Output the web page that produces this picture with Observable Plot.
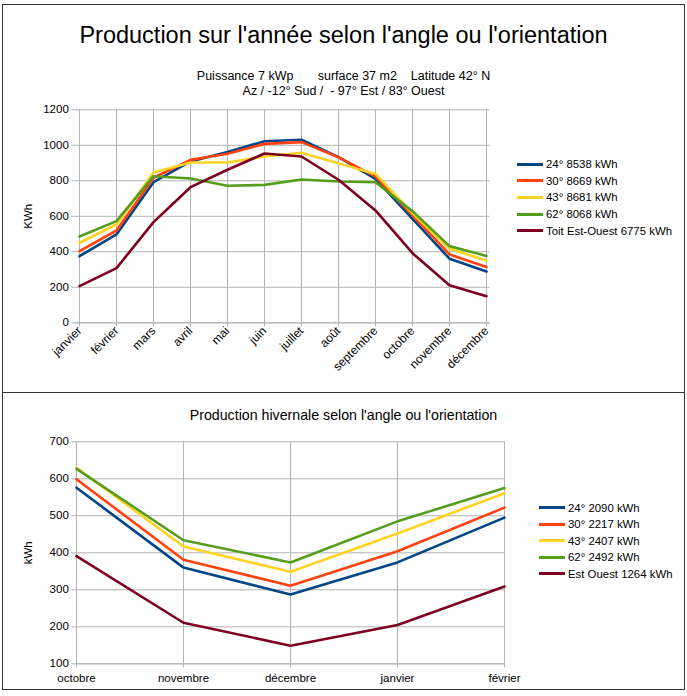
<!DOCTYPE html>
<html>
<head>
<meta charset="utf-8">
<script src="https://cdn.jsdelivr.net/npm/d3@7"></script>
<script src="https://cdn.jsdelivr.net/npm/@observablehq/plot@0.6"></script>
<style>
  html, body { margin: 0; padding: 0; background: #fff; }
  body { width: 687px; height: 696px; position: relative; overflow: hidden; font-family: "Liberation Sans", Arial, sans-serif; color: #000; }
  .panel { position: absolute; box-sizing: border-box; border: 1px solid #333; background: #fff; }
  .abs { position: absolute; }
  .title1 { left: 0; width: 687px; top: 22px; text-align: center; font-size: 23.5px; white-space: pre; }
  .sub { left: 0; width: 687px; text-align: center; font-size: 12.5px; white-space: pre; line-height: 15px; }
  .title2 { left: 0; width: 687px; top: 407px; text-align: center; font-size: 14.2px; white-space: pre; }
  .legend { font-size: 11.4px; }
  .legend .row { position: absolute; white-space: pre; display: flex; align-items: center; height: 14px; }
  .legend .sw { width: 26px; height: 3px; margin-right: 3px; }
  svg { position: absolute; left: 0; }
</style>
</head>
<body>
<div class="panel" style="left:2px;top:4px;width:683px;height:389px;"></div>
<div class="panel" style="left:2px;top:392px;width:683px;height:298px;"></div>
<div id="root"></div>
<script>
// ---- Annual data ----
const months = ["janvier","février","mars","avril","mai","juin","juillet","août","septembre","octobre","novembre","décembre"];
const s24 = [375,498,792,909,962,1023,1031,933,811,586,361,289];
const s30 = [404,520,817,918,952,1008,1018,933,824,605,385,314];
const s43 = [451,554,847,903,903,937,958,899,839,618,417,351];
const s62 = [486,573,826,813,772,777,807,796,792,629,432,377];
const sEO = [207,308,567,764,862,954,937,806,633,392,212,150];
const annualLabels = ["24° 8538 kWh","30° 8669 kWh","43° 8681 kWh","62° 8068 kWh","Toit Est-Ouest 6775 kWh"];
const annualTicks = [0,200,400,600,800,1000,1200];

// ---- Winter data ----
const winterMonths = ["octobre","novembre","décembre","janvier","février"];
const w24 = [576,360,287,374,495];
const w30 = [599,381,311,404,522];
const w43 = [630,417,349,452,561];
const w62 = [627,434,374,485,575];
const wEO = [391,211,149,205,309];
const winterLabels = ["24° 2090 kWh","30° 2217 kWh","43° 2407 kWh","62° 2492 kWh","Est Ouest 1264 kWh"];
const winterTicks = [100,200,300,400,500,600,700];

const colors = ["#004586","#ff420e","#ffd320","#579d1c","#7e0021"];
const grid = "#b3b3b3";

function rows(xs, seriesList, labels) {
  const out = [];
  seriesList.forEach((vals, i) => vals.forEach((v, j) => out.push({x: xs[j], y: v, s: labels[i]})));
  return out;
}

const root = document.getElementById("root");

function addText(cls, top, text) {
  const d = document.createElement("div");
  d.className = "abs " + cls;
  if (top != null) d.style.top = top + "px";
  d.textContent = text;
  root.appendChild(d);
}

function addLegend(labels, left, tops) {
  const lg = document.createElement("div");
  lg.className = "legend";
  labels.forEach((lab, i) => {
    const r = document.createElement("div");
    r.className = "row";
    r.style.left = left + "px";
    r.style.top = (tops[i] - 7) + "px";
    const sw = document.createElement("div");
    sw.className = "sw";
    sw.style.background = colors[i];
    const t = document.createElement("span");
    t.textContent = lab;
    r.appendChild(sw); r.appendChild(t);
    lg.appendChild(r);
  });
  root.appendChild(lg);
}

const fmt = d => String(d);

// ---- Top chart ----
const annual = Plot.plot({
  width: 687, height: 392,
  marginLeft: 75.3, marginRight: 197.3, marginTop: 109.3, marginBottom: 69.7,
  style: {fontFamily: "Liberation Sans, Arial, sans-serif", fontSize: "11.5px", color: "#000", background: "transparent"},
  x: {type: "point", domain: months, padding: 0},
  y: {domain: [0, 1200]},
  color: {domain: annualLabels, range: colors},
  marks: [
    Plot.gridY(annualTicks, {stroke: grid, strokeOpacity: 1}),
    Plot.gridX(months, {stroke: grid, strokeOpacity: 1}),
    Plot.ruleY([0], {stroke: grid}),
    Plot.ruleX([months[0]], {stroke: grid}),
    Plot.axisY(annualTicks, {tickSize: 4, tickPadding: 3, stroke: grid, fill: "#000", tickFormat: fmt,
      label: "KWh", labelAnchor: "center", labelArrow: "none", labelOffset: 52}),
    Plot.axisX(months, {tickSize: 4, tickPadding: 2, tickRotate: -45, stroke: grid, fill: "#000", fontSize: 12, label: null}),
    Plot.line(rows(months, [s24, s30, s43, s62, sEO], annualLabels),
      {x: "x", y: "y", z: "s", stroke: "s", strokeWidth: 2.6, curve: "linear"})
  ]
});
annual.style.top = "0px";
root.appendChild(annual);

addText("title1", null, "Production sur l'année selon l'angle ou l'orientation");
addText("sub", 69, "Puissance 7 kWp       surface 37 m2    Latitude 42° N");
addText("sub", 84, "Az / -12° Sud /  - 97° Est / 83° Ouest");
addLegend(annualLabels, 517, [164, 180.7, 197.3, 214, 230.7]);

// ---- Bottom chart ----
const winter = Plot.plot({
  width: 687, height: 298,
  marginLeft: 75.3, marginRight: 182, marginTop: 49.3, marginBottom: 26.7,
  style: {fontFamily: "Liberation Sans, Arial, sans-serif", fontSize: "11.5px", color: "#000", background: "transparent"},
  x: {type: "point", domain: winterMonths, padding: 0},
  y: {domain: [100, 700]},
  color: {domain: winterLabels, range: colors},
  marks: [
    Plot.gridY(winterTicks, {stroke: grid, strokeOpacity: 1}),
    Plot.gridX(winterMonths, {stroke: grid, strokeOpacity: 1}),
    Plot.ruleY([100], {stroke: grid}),
    Plot.ruleX([winterMonths[0]], {stroke: grid}),
    Plot.axisY(winterTicks, {tickSize: 4, tickPadding: 3, stroke: grid, fill: "#000", tickFormat: fmt,
      label: "kWh", labelAnchor: "center", labelArrow: "none", labelOffset: 52}),
    Plot.axisX(winterMonths, {tickSize: 4, tickPadding: 6, stroke: grid, fill: "#000", label: null}),
    Plot.line(rows(winterMonths, [w24, w30, w43, w62, wEO], winterLabels),
      {x: "x", y: "y", z: "s", stroke: "s", strokeWidth: 2.6, curve: "linear"})
  ]
});
winter.style.top = "392px";
root.appendChild(winter);

addText("title2", null, "Production hivernale selon l'angle ou l'orientation");
addLegend(winterLabels, 539, [507.7, 524.3, 540.7, 557.3, 573.7]);
</script>
</body>
</html>
